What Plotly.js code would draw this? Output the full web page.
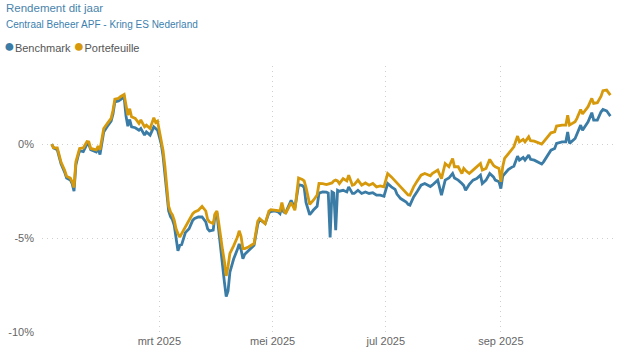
<!DOCTYPE html>
<html>
<head>
<meta charset="utf-8">
<script src="https://cdn.plot.ly/plotly-3.0.1.min.js"></script>
<style>html,body{margin:0;padding:0;background:#fff}#chart{width:636px;height:362px}</style>
</head>
<body>
<div id="chart"></div>
<script>
const dates = [
"2025-01-02","2025-01-03","2025-01-05","2025-01-07","2025-01-09","2025-01-10","2025-01-12","2025-01-13","2025-01-14","2025-01-15",
"2025-01-16","2025-01-17","2025-01-19","2025-01-21","2025-01-22","2025-01-23","2025-01-26","2025-01-27","2025-01-28","2025-01-30",
"2025-02-01","2025-02-03","2025-02-04","2025-02-05","2025-02-07","2025-02-08","2025-02-10","2025-02-11","2025-02-12","2025-02-13",
"2025-02-14","2025-02-16","2025-02-18","2025-02-19","2025-02-21","2025-02-22","2025-02-24","2025-02-26","2025-02-27","2025-02-28",
"2025-03-01","2025-03-02","2025-03-03","2025-03-04","2025-03-05","2025-03-06","2025-03-07","2025-03-08","2025-03-09","2025-03-10",
"2025-03-11","2025-03-12","2025-03-13","2025-03-15","2025-03-17","2025-03-19","2025-03-20","2025-03-22","2025-03-24","2025-03-26",
"2025-03-27","2025-03-28","2025-03-30","2025-03-31","2025-04-01","2025-04-02","2025-04-03","2025-04-04","2025-04-05","2025-04-06",
"2025-04-07","2025-04-08","2025-04-10","2025-04-12","2025-04-13","2025-04-14","2025-04-15","2025-04-16","2025-04-18","2025-04-21",
"2025-04-23","2025-04-24","2025-04-27","2025-04-29","2025-04-30","2025-05-02","2025-05-04","2025-05-05","2025-05-06","2025-05-07",
"2025-05-08","2025-05-10","2025-05-11","2025-05-13","2025-05-15","2025-05-17","2025-05-18","2025-05-19","2025-05-21","2025-05-23",
"2025-05-25","2025-05-26","2025-05-28","2025-05-30","2025-05-31","2025-06-01","2025-06-02","2025-06-03","2025-06-04","2025-06-05",
"2025-06-06","2025-06-08","2025-06-10","2025-06-11","2025-06-13","2025-06-14","2025-06-16","2025-06-18","2025-06-20","2025-06-22",
"2025-06-24","2025-06-26","2025-06-28","2025-06-30","2025-07-02","2025-07-04","2025-07-06","2025-07-07","2025-07-09","2025-07-12",
"2025-07-13","2025-07-14","2025-07-16","2025-07-18","2025-07-20","2025-07-22","2025-07-25","2025-07-26","2025-07-29","2025-07-31",
"2025-08-02","2025-08-04","2025-08-06","2025-08-07","2025-08-09","2025-08-11","2025-08-12","2025-08-13","2025-08-15","2025-08-17",
"2025-08-19","2025-08-21","2025-08-22","2025-08-24","2025-08-26","2025-08-28","2025-08-29","2025-08-31","2025-09-01","2025-09-02",
"2025-09-03","2025-09-05","2025-09-07","2025-09-08","2025-09-10","2025-09-11","2025-09-13","2025-09-14","2025-09-16","2025-09-17",
"2025-09-19","2025-09-21","2025-09-23","2025-09-24","2025-09-26","2025-09-28","2025-09-30","2025-10-01","2025-10-04","2025-10-06",
"2025-10-07","2025-10-08","2025-10-11","2025-10-12","2025-10-14","2025-10-15","2025-10-18","2025-10-20","2025-10-21","2025-10-23",
"2025-10-25","2025-10-26","2025-10-28","2025-10-29","2025-10-30"
];

const benchmark = [
0.00,-0.20,-0.30,-1.05,-1.50,-1.80,-1.90,-2.10,-2.50,-1.10,
-0.70,-0.35,-0.40,0.00,-0.02,-0.30,-0.42,-0.25,-0.55,0.65,
0.95,1.22,1.60,2.25,2.30,2.36,2.50,1.50,0.95,1.31,
0.92,0.87,0.74,0.83,0.48,0.65,0.48,0.92,0.83,0.74,
0.39,0.00,-0.65,-1.55,-2.55,-3.55,-3.85,-4.00,-4.31,-4.90,
-5.67,-5.37,-5.34,-4.70,-4.49,-4.04,-3.95,-3.87,-3.87,-4.13,
-4.50,-4.61,-4.57,-3.75,-3.65,-4.60,-5.60,-6.50,-7.30,-8.10,
-7.80,-6.80,-6.10,-5.60,-5.30,-5.60,-6.08,-5.85,-5.64,-5.37,
-4.25,-4.00,-4.22,-3.65,-3.58,-3.55,-3.60,-3.69,-3.30,-3.60,
-3.65,-3.20,-2.98,-3.40,-2.15,-2.20,-2.30,-3.10,-3.75,-3.50,
-3.30,-2.60,-2.54,-2.55,-2.60,-4.95,-2.54,-2.60,-4.57,-2.45,
-2.50,-2.45,-2.54,-2.27,-2.62,-2.62,-2.45,-2.62,-2.54,-2.62,
-2.58,-2.71,-2.71,-2.77,-2.09,-2.27,-2.40,-2.65,-2.89,-3.07,
-3.20,-3.24,-2.80,-2.50,-2.18,-2.09,-2.25,-2.18,-1.91,-2.71,
-1.91,-1.80,-1.56,-1.80,-1.91,-2.09,-2.20,-2.45,-2.13,-1.91,
-1.83,-1.65,-2.09,-1.91,-1.56,-1.74,-1.91,-2.00,-2.36,-1.70,
-1.56,-1.35,-1.22,-1.17,-0.64,-0.85,-0.71,-0.85,-0.58,-0.81,
-0.85,-0.94,-1.06,-0.94,-0.60,-0.32,-0.23,0.04,0.12,0.12,
0.65,0.04,0.30,0.53,1.01,0.74,1.19,1.67,1.28,1.28,
1.72,1.84,1.77,1.63,1.49
];

const portefeuille = [
0.00,-0.20,-0.20,-0.95,-1.40,-1.70,-1.80,-2.00,-2.30,-0.94,
-0.58,-0.23,-0.20,0.14,0.12,-0.23,-0.30,-0.10,-0.30,0.83,
1.10,1.37,1.80,2.39,2.43,2.52,2.64,2.00,1.54,1.88,
1.45,1.37,1.10,1.28,0.92,1.01,0.83,1.40,1.15,1.22,
0.65,0.20,-0.35,-1.20,-2.30,-3.30,-3.60,-3.75,-4.04,-4.50,
-4.75,-4.93,-4.75,-4.35,-4.04,-3.69,-3.60,-3.51,-3.30,-3.55,
-4.00,-4.13,-4.22,-3.70,-3.55,-4.20,-5.00,-5.60,-6.20,-7.00,
-6.50,-5.80,-5.40,-4.95,-4.60,-4.90,-5.55,-5.55,-5.46,-5.28,
-4.10,-3.95,-4.22,-3.55,-3.48,-3.51,-3.55,-3.55,-3.10,-3.50,
-3.69,-3.24,-3.10,-3.51,-1.80,-1.88,-1.95,-2.30,-3.20,-2.98,
-2.70,-2.09,-2.10,-2.15,-2.13,-2.10,-2.06,-1.95,-1.91,-1.95,
-2.09,-1.83,-1.95,-1.65,-2.18,-2.15,-1.91,-2.18,-2.06,-2.18,
-2.09,-2.27,-2.22,-2.27,-1.56,-1.74,-1.95,-2.05,-2.27,-2.62,
-2.70,-2.71,-2.27,-1.95,-1.65,-1.56,-1.68,-1.56,-1.38,-1.83,
-1.03,-1.20,-0.76,-1.20,-1.20,-1.56,-1.29,-1.40,-1.56,-1.38,
-1.20,-1.03,-1.38,-1.29,-0.81,-1.12,-1.20,-1.29,-2.00,-1.20,
-0.76,-0.50,-0.30,-0.14,0.43,0.12,0.25,0.12,0.39,0.18,
0.16,0.07,0.00,0.12,0.35,0.60,0.65,0.96,1.01,1.01,
1.54,1.01,1.19,1.37,1.84,1.60,1.99,2.43,2.16,2.20,
2.55,2.84,2.87,2.73,2.60
];

const seriesNames = ["Benchmark", "Portefeuille"];
const seriesColors = ["#3a7ca5", "#d6990b"];
const xTickVals = ["2025-03-01", "2025-05-01", "2025-07-01", "2025-09-01"];
const xTickText = ["mrt 2025", "mei 2025", "jul 2025", "sep 2025"];
const yTickVals = [-10, -5, 0];
const yTickText = ["-10%", "-5%", "0%"];
const titleText = "Rendement dit jaar";
const subtitleText = "Centraal Beheer APF - Kring ES Nederland";

const font = "Liberation Sans, Arial, sans-serif";

const traces = [
  {x: dates, y: benchmark, name: seriesNames[0], type: "scatter", mode: "lines",
   line: {color: seriesColors[0], width: 2.8, shape: "linear"}, showlegend: false, hoverinfo: "skip"},
  {x: dates, y: portefeuille, name: seriesNames[1], type: "scatter", mode: "lines",
   line: {color: seriesColors[1], width: 2.8, shape: "linear"}, showlegend: false, hoverinfo: "skip"}
];

const gridStyle = {showgrid: true, gridcolor: "#cfcfcf", griddash: "1px,4px", gridwidth: 1,
                   zeroline: false, showline: false, ticks: ""};

const layout = {
  width: 636, height: 362,
  margin: {l: 42, r: 21, t: 66, b: 29},
  paper_bgcolor: "#fff", plot_bgcolor: "#fff",
  font: {family: font, size: 11, color: "#666"},
  showlegend: false,
  xaxis: Object.assign({
    type: "date",
    range: ["2024-12-27 18:00", "2025-11-01 12:00"],
    tickvals: xTickVals, ticktext: xTickText,
    tickfont: {family: font, size: 11, color: "#666"}
  }, gridStyle),
  yaxis: Object.assign({
    range: [-10.03, 4.15],
    tickvals: yTickVals, ticktext: yTickText,
    ticklabelstandoff: 7,
    tickfont: {family: font, size: 11, color: "#666"}
  }, gridStyle),
  annotations: [
    {text: titleText, xref: "paper", yref: "paper", x: -0.066, y: 1.217, xanchor: "left", yanchor: "middle",
     showarrow: false, font: {family: font, size: 11.5, color: "#4a84ab"}},
    {text: subtitleText, xref: "paper", yref: "paper", x: -0.066, y: 1.157, xanchor: "left", yanchor: "middle",
     showarrow: false, font: {family: font, size: 10, color: "#3c7fae"}},
    {text: '<span style="color:' + seriesColors[0] + ';font-size:18px">●</span>' + seriesNames[0] +
           ' <span style="color:' + seriesColors[1] + ';font-size:18px">●</span>' + seriesNames[1],
     xref: "paper", yref: "paper", x: -0.07, y: 1.075, xanchor: "left", yanchor: "middle",
     showarrow: false, font: {family: font, size: 11, color: "#555"}}
  ]
};

Plotly.newPlot("chart", traces, layout, {staticPlot: true, displayModeBar: false});
</script>
</body>
</html>
